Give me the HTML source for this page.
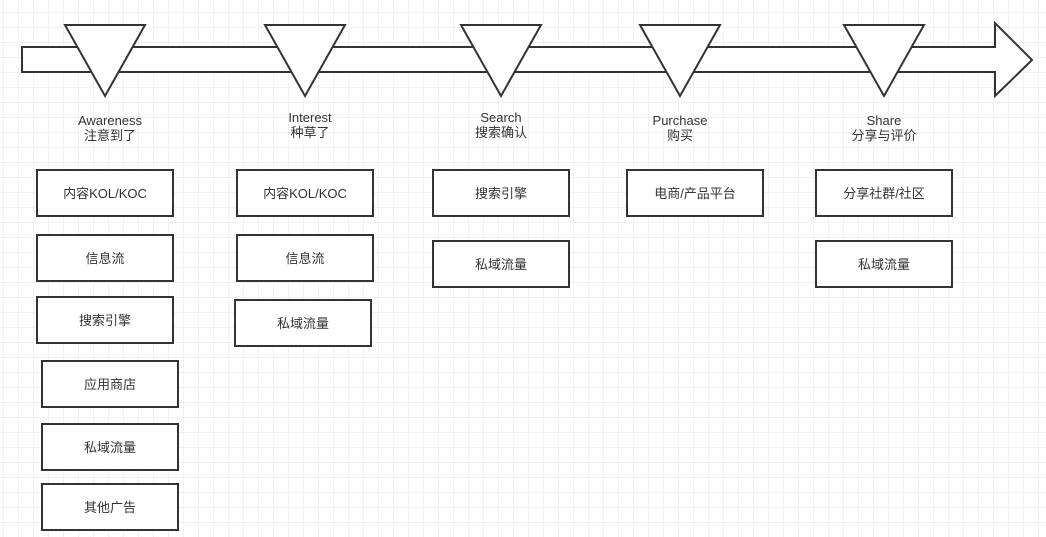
<!DOCTYPE html>
<html><head><meta charset="utf-8"><style>
html,body{margin:0;padding:0;background:#fff;}
svg{display:block;}
text{font-family:"Liberation Sans","Noto Sans CJK SC",sans-serif;font-size:13px;fill:#333;text-anchor:middle;}
</style></head><body>
<svg width="1046" height="537" viewBox="0 0 1046 537" xmlns="http://www.w3.org/2000/svg">
<defs>
<pattern id="g" x="3" y="12" width="15" height="15" patternUnits="userSpaceOnUse">
<path d="M0 0H15M0 0V15" stroke="#e6e6e6" stroke-width="1" fill="none"/>
</pattern>
</defs>
<rect width="1046" height="537" fill="url(#g)"/>
<g stroke="#333" stroke-width="2" fill="#fff">
<polygon points="22,47 995,47 995,23 1032,60 995,96 995,72 22,72"/>
<polygon points="65,25 145,25 105,96"/>
<polygon points="265,25 345,25 305,96"/>
<polygon points="461,25 541,25 501,96"/>
<polygon points="640,25 720,25 680,96"/>
<polygon points="844,25 924,25 884,96"/>
<rect x="37" y="170" width="136" height="46"/>
<rect x="37" y="235" width="136" height="46"/>
<rect x="37" y="297" width="136" height="46"/>
<rect x="42" y="361" width="136" height="46"/>
<rect x="42" y="424" width="136" height="46"/>
<rect x="42" y="484" width="136" height="46"/>
<rect x="237" y="170" width="136" height="46"/>
<rect x="237" y="235" width="136" height="46"/>
<rect x="235" y="300" width="136" height="46"/>
<rect x="433" y="170" width="136" height="46"/>
<rect x="433" y="241" width="136" height="46"/>
<rect x="627" y="170" width="136" height="46"/>
<rect x="816" y="170" width="136" height="46"/>
<rect x="816" y="241" width="136" height="46"/>
</g>
<text x="110" y="125">Awareness</text><text x="110" y="140">注意到了</text>
<text x="310" y="122">Interest</text><text x="310" y="137">种草了</text>
<text x="501" y="122">Search</text><text x="501" y="137">搜索确认</text>
<text x="680" y="125">Purchase</text><text x="680" y="140">购买</text>
<text x="884" y="125">Share</text><text x="884" y="140">分享与评价</text>
<text x="105" y="198">内容KOL/KOC</text>
<text x="105" y="263">信息流</text>
<text x="105" y="325">搜索引擎</text>
<text x="110" y="389">应用商店</text>
<text x="110" y="452">私域流量</text>
<text x="110" y="512">其他广告</text>
<text x="305" y="198">内容KOL/KOC</text>
<text x="305" y="263">信息流</text>
<text x="303" y="328">私域流量</text>
<text x="501" y="198">搜索引擎</text>
<text x="501" y="269">私域流量</text>
<text x="695" y="198">电商/产品平台</text>
<text x="884" y="198">分享社群/社区</text>
<text x="884" y="269">私域流量</text>
</svg>
</body></html>
